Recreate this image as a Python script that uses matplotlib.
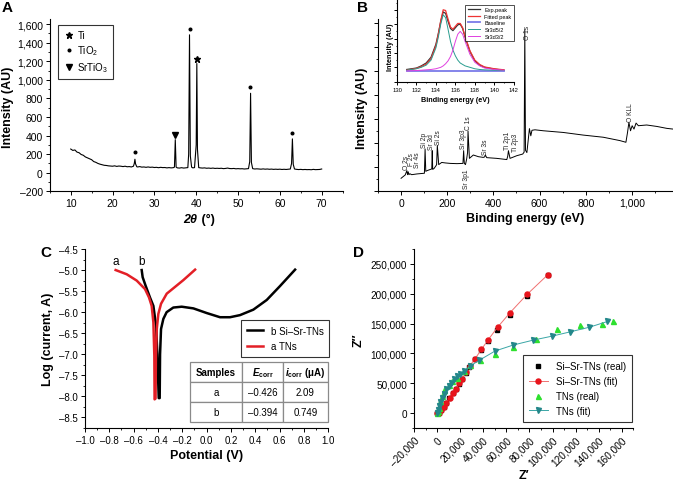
import matplotlib
matplotlib.use("Agg")
import matplotlib.pyplot as plt
from matplotlib.ticker import MultipleLocator, FuncFormatter, NullFormatter

# Global style
plt.rcParams.update({
    "font.family": ["Liberation Sans", "DejaVu Sans"],
    "font.size": 7,
    "axes.linewidth": 0.8,
    "xtick.direction": "out",
    "ytick.direction": "out",
    "xtick.major.size": 3,
    "ytick.major.size": 3,
    "xtick.minor.size": 1.6,
    "ytick.minor.size": 1.6,
    "xtick.major.width": 0.7,
    "ytick.major.width": 0.7,
    "xtick.minor.width": 0.6,
    "ytick.minor.width": 0.6,
    "xtick.major.pad": 2,
    "ytick.major.pad": 2,
    "mathtext.fontset": "custom",
    "mathtext.rm": "Liberation Sans",
    "mathtext.it": "Liberation Sans:italic",
    "mathtext.bf": "Liberation Sans:bold",
    "mathtext.bfit": "Liberation Sans:bold:italic",
    "mathtext.fallback": "stixsans",
})

# ---------------- Data ----------------
# A: XRD pattern
xrd_two_theta = [10.0, 10.5, 11.0, 11.5, 12.0, 12.5, 13.0, 13.5, 14.0, 14.5, 15.0, 15.5, 16.0, 16.5,
                 17.0, 17.5, 18.0, 18.5, 19.0, 19.5, 20.0, 20.5, 21.0, 21.5, 22.0, 22.5, 23.0, 23.5,
                 24.0, 24.5, 25.0, 25.2, 25.35, 25.5, 25.8, 26.0, 26.5, 27.0, 27.5, 28.0, 28.5, 29.0,
                 29.5, 30.0, 30.5, 31.0, 31.5, 32.0, 32.5, 33.0, 33.5, 34.0, 34.5, 34.8, 35.0, 35.2,
                 35.5, 36.0, 36.5, 37.0, 37.5, 38.0, 38.2, 38.4, 38.6, 38.9, 39.2, 39.6, 40.0, 40.15,
                 40.3, 40.6, 41.0, 41.5, 42.0, 42.5, 43.0, 43.5, 44.0, 44.5, 45.0, 45.5, 46.0, 46.5,
                 47.0, 47.5, 48.0, 48.5, 49.0, 49.5, 50.0, 50.5, 51.0, 51.5, 52.0, 52.5, 52.8, 53.0,
                 53.2, 53.5, 54.0, 54.5, 55.0, 55.5, 56.0, 56.5, 57.0, 57.5, 58.0, 58.5, 59.0, 59.5,
                 60.0, 60.5, 61.0, 61.5, 62.0, 62.5, 62.8, 63.0, 63.2, 63.5, 64.0, 64.5, 65.0, 65.5,
                 66.0, 66.5, 67.0, 67.5, 68.0, 68.5, 69.0, 69.5, 70.0]
xrd_intensity = [255, 240, 245, 222, 215, 196, 188, 170, 160, 150, 140, 120, 112, 100,
                 92, 86, 80, 78, 74, 72, 70, 74, 68, 72, 70, 66, 70, 64,
                 66, 62, 70, 100, 145, 95, 64, 62, 66, 60, 62, 58, 62, 58,
                 60, 56, 58, 54, 58, 55, 56, 52, 55, 52, 54, 60, 356, 60,
                 52, 50, 54, 50, 52, 55, 200, 1484, 180, 60, 52, 55, 300, 1175,
                 250, 55, 52, 50, 52, 48, 50, 47, 50, 46, 48, 46, 48, 44,
                 46, 50, 45, 44, 46, 42, 44, 42, 43, 40, 42, 44, 120, 855,
                 110, 44, 40, 42, 40, 38, 41, 38, 40, 37, 39, 36, 38, 36,
                 38, 35, 37, 35, 37, 40, 100, 364, 90, 40, 36, 34, 36, 33,
                 35, 33, 34, 32, 36, 33, 34, 35, 40]
ti_pos, ti_int = [40.15], [1228]
tio2_pos, tio2_int = [25.3, 38.4, 52.95, 62.9], [218, 1548, 918, 430]
srtio3_pos, srtio3_int = [34.95], [405]

# B: XPS survey
xps_energy = [0, 18, 25, 28, 31, 34, 38, 46, 68, 101, 104, 107, 113, 133, 135, 137, 143, 151, 154,
              157, 163, 176, 191, 213, 242, 268, 271, 274, 279, 284, 288, 290, 296, 313, 335, 356,
              362, 365, 371, 414, 458, 462, 465, 472, 501, 527, 533, 536, 539, 545, 556, 562, 567,
              580, 616, 702, 789, 876, 948, 974, 981, 987, 994, 1001, 1009, 1018, 1028, 1064, 1108,
              1151, 1178]
xps_intensity = [0.53, 0.67, 0.85, 0.68, 0.8, 0.68, 0.72, 0.68, 0.71, 0.74, 1.75, 0.82, 0.85, 0.92,
                 1.68, 0.9, 0.94, 1.05, 1.1, 1.9, 1.1, 1.19, 1.17, 1.15, 1.14, 1.15, 1.68, 1.15,
                 1.1, 1.33, 1.6, 2.5, 1.36, 1.5, 1.43, 1.4, 1.42, 1.5, 1.39, 1.36, 1.31, 1.45,
                 1.68, 1.36, 1.47, 1.54, 1.62, 6.72, 1.7, 1.6, 2.6, 2.3, 2.53, 2.55, 2.51, 2.44,
                 2.33, 2.24, 2.1, 2.03, 2.44, 2.86, 2.51, 2.72, 2.58, 2.83, 2.72, 2.75, 2.69, 2.61,
                 2.58]
peak_names = ["O 2s", "F 2s", "Sr 4s", "Si 2p", "Sr 3d", "Si 2s", "Sr 3p3", "C 1s", "Sr 3s",
              "Ti 2p1", "Ti 2p3", "O 1s", "O KLL"]
peak_label_x = [22, 46, 70, 102, 130, 160, 271, 292, 364, 462, 494, 549, 993]
peak_label_y = [0.9, 1.1, 1.0, 1.82, 1.75, 1.96, 1.78, 2.6, 1.56, 1.74, 1.66, 6.35, 2.93]
below_name, below_x, below_y = "Sr 3p1", 283, 0.95

# B inset: Sr 3d high-resolution
sr3d_energy = [131, 132, 132.5, 133, 133.5, 134, 134.25, 134.5, 134.75, 135, 135.25, 135.5, 135.75,
               136, 136.25, 136.5, 136.75, 137, 137.5, 138, 138.5, 139, 140, 141]
sr3d_exp = [0.17, 0.19, 0.22, 0.26, 0.34, 0.52, 0.67, 0.84, 0.97, 0.95, 0.84, 0.74, 0.71,
            0.75, 0.79, 0.80, 0.74, 0.62, 0.42, 0.29, 0.23, 0.20, 0.175, 0.16]
sr3d_fit = [0.16, 0.185, 0.21, 0.245, 0.32, 0.50, 0.66, 0.85, 1.0, 0.99, 0.87, 0.76, 0.73,
            0.77, 0.81, 0.81, 0.75, 0.63, 0.43, 0.30, 0.24, 0.205, 0.18, 0.165]
sr3d_base = [0.15] * len(sr3d_energy)
sr3d52 = [0.16, 0.18, 0.20, 0.23, 0.30, 0.47, 0.62, 0.80, 0.93, 0.89, 0.73, 0.56, 0.44,
          0.36, 0.30, 0.26, 0.24, 0.22, 0.20, 0.18, 0.17, 0.165, 0.16, 0.155]
sr3d32 = [0.15, 0.155, 0.16, 0.165, 0.17, 0.18, 0.19, 0.20, 0.22, 0.25, 0.29, 0.35, 0.44,
          0.56, 0.66, 0.70, 0.66, 0.56, 0.38, 0.27, 0.22, 0.19, 0.17, 0.16]

# C: polarization curves
tns_potential = [-0.748, -0.657, -0.575, -0.507, -0.474, -0.452, -0.438, -0.43, -0.428,
                 -0.42, -0.417, -0.41, -0.397, -0.375, -0.328, -0.26, -0.192, -0.095]
tns_logi = [-5.0, -5.10, -5.25, -5.45, -5.65, -5.85, -6.24, -7.04, -8.07,
            -8.05, -7.04, -6.4, -6.04, -5.8, -5.56, -5.40, -5.24, -4.99]
sisr_potential = [-0.534, -0.526, -0.502, -0.466, -0.438, -0.416, -0.405, -0.394, -0.386,
                  -0.383, -0.375, -0.356, -0.329, -0.274, -0.205, -0.109, 0.0, 0.11, 0.192,
                  0.274, 0.384, 0.494, 0.603, 0.727]
sisr_logi = [-5.0, -5.17, -5.37, -5.65, -5.85, -6.32, -7.0, -8.04, -8.04,
             -7.0, -6.4, -6.16, -6.0, -5.89, -5.87, -5.91, -6.02, -6.12, -6.12,
             -6.07, -5.94, -5.71, -5.38, -4.99]
table_samples = ["a", "b"]
table_ecorr = [-0.426, -0.394]
table_icorr = ["2.09", "0.749"]

# D: Nyquist plots
sisr_real_x = [0, 1300, 3300, 5600, 7900, 10700, 13600, 16400, 19300, 21800, 24700, 28000,
               32700, 38200, 44200, 51700, 63000, 77600, 96000]
sisr_real_y = [0, 500, 4600, 10200, 16800, 25000, 33400, 40000, 48600, 56500, 67200, 77600,
               90000, 105000, 121500, 140000, 165100, 195800, 231000]
sisr_fit_x = [0, 1400, 3400, 5700, 8000, 10800, 13700, 16600, 19400, 22000, 24900, 28100,
              32900, 38400, 44400, 52600, 63300, 78000, 96000]
sisr_fit_y = [0, 700, 5000, 10700, 17400, 25800, 34100, 40800, 49700, 57600, 68600, 78700,
              91000, 106600, 123300, 144300, 168500, 199000, 232000]
tns_real_x = [0, 700, 1400, 2800, 4300, 6300, 10000, 12900, 17200, 22900, 28600, 37000,
              50200, 65900, 86000, 103700, 123900, 142800, 152000]
tns_real_y = [0, 4000, 9000, 20100, 28500, 38500, 46400, 53600, 59200, 70300, 79800, 89500,
              99400, 111100, 125000, 141700, 148400, 149600, 155100]
tns_fit_x = [0, 600, 1400, 2800, 4300, 6000, 8000, 10000, 12000, 14500, 17200, 19800, 22900,
             28600, 36700, 50200, 65900, 83100, 99500, 115500, 131900, 147600]
tns_fit_y = [0, 5500, 11700, 19000, 25800, 32500, 39700, 45500, 50900, 56500, 61900, 66000,
             70300, 78700, 88700, 104000, 114000, 122200, 128900, 136200, 143900, 153500]

# ---------------- Layout helpers ----------------
W, H = 673, 481
fig = plt.figure(figsize=(W / 100, H / 100), dpi=100)


def box(l, t, r, b):
    return [l / W, 1 - b / H, (r - l) / W, (b - t) / H]


def ftext(px, py, s, **kw):
    fig.text(px / W, 1 - py / H, s, ha="center", va="center", **kw)


def dash_fmt(fmt):
    def f(v, p):
        if abs(v) < 1e-9:
            v = 0
        return fmt.format(v).replace("-", "\u2013")
    return FuncFormatter(f)


def clean(ax):
    ax.spines["top"].set_visible(False)
    ax.spines["right"].set_visible(False)


LBL = dict(fontsize=9, fontweight="bold")

# ---------------- Panel A ----------------
axA = fig.add_axes(box(49.8, 20.4, 342.6, 192.3))
clean(axA)
axA.plot(xrd_two_theta, xrd_intensity, color="black", lw=0.8)
axA.plot(ti_pos, ti_int, ls="none", marker="*", ms=5, color="black", label="Ti")
axA.plot(tio2_pos, tio2_int, ls="none", marker="o", ms=1.9, color="black", label="TiO$_2$")
axA.plot(srtio3_pos, srtio3_int, ls="none", marker="v", ms=5, color="black", label="SrTiO$_3$")
axA.set_xlim(5, 75)
axA.set_ylim(-200, 1650)
axA.xaxis.set_major_locator(MultipleLocator(10))
axA.xaxis.set_minor_locator(MultipleLocator(5))
axA.yaxis.set_major_locator(MultipleLocator(200))
axA.yaxis.set_minor_locator(MultipleLocator(100))
axA.yaxis.set_major_formatter(dash_fmt("{:,.0f}"))
axA.tick_params(labelsize=7.5)
axA.legend(loc="upper left", bbox_to_anchor=(0.028, 0.967), borderaxespad=0, fontsize=7,
           frameon=True, fancybox=False, edgecolor="black", handletextpad=0.3,
           labelspacing=0.35, borderpad=0.5, handlelength=1.2, numpoints=1)
axA.get_legend().get_frame().set_linewidth(0.8)
ftext(7, 8, "A", fontsize=11, fontweight="bold")
ftext(8, 107, "Intensity (AU)", rotation=90, **LBL)
fig.text(197 / W, 1 - 220 / H, "2θ", ha="right", va="center", fontsize=9,
         fontweight="bold", fontstyle="italic")
fig.text(198 / W, 1 - 220 / H, " (°)", ha="left", va="center", **LBL)

# ---------------- Panel B ----------------
axB = fig.add_axes(box(378, 20.4, 673, 192))
clean(axB)
axB.plot(xps_energy, xps_intensity, color="black", lw=0.7)
axB.set_xlim(-100, 1178)
axB.set_ylim(0, 7.15)
axB.xaxis.set_major_locator(MultipleLocator(200))
axB.xaxis.set_minor_locator(MultipleLocator(100))
axB.xaxis.set_major_formatter(dash_fmt("{:,.0f}"))
axB.yaxis.set_major_locator(MultipleLocator(1))
axB.yaxis.set_minor_locator(MultipleLocator(0.5))
axB.yaxis.set_major_formatter(NullFormatter())
axB.tick_params(labelsize=7.5)
for name, x, y in zip(peak_names, peak_label_x, peak_label_y):
    axB.text(x, y, name, rotation=90, ha="center", va="bottom", fontsize=4.8,
             color="#222222")
axB.text(below_x, below_y, below_name, rotation=90, ha="center", va="top", fontsize=4.8,
         color="#222222")
ftext(362, 8, "B", fontsize=11, fontweight="bold")
ftext(362, 108, "Intensity (AU)", rotation=90, **LBL)
ftext(525, 219, "Binding energy (eV)", **LBL)

# inset
axI = fig.add_axes(box(397, 0, 513.7, 82.7))
clean(axI)
axI.plot(sr3d_energy, sr3d_exp, color="#333333", lw=0.9, label="Exp.peak")
axI.plot(sr3d_energy, sr3d_fit, color="#ee3333", lw=0.9, label="Fitted peak")
axI.plot(sr3d_energy, sr3d_base, color="#7b7be8", lw=1.3, label="Baseline")
axI.plot(sr3d_energy, sr3d52, color="#2a9d8f", lw=0.7, label="Sr3d5/2")
axI.plot(sr3d_energy, sr3d32, color="#e040e0", lw=0.7, label="Sr3d3/2")
axI.set_xlim(130, 142)
axI.set_ylim(0, 1.15)
axI.xaxis.set_major_locator(MultipleLocator(2))
axI.xaxis.set_minor_locator(MultipleLocator(1))
axI.yaxis.set_major_locator(MultipleLocator(0.2))
axI.yaxis.set_minor_locator(MultipleLocator(0.1))
axI.yaxis.set_major_formatter(NullFormatter())
axI.tick_params(labelsize=4.2, length=2, pad=1.5)
axI.tick_params(which="minor", length=1)
axI.legend(loc="upper right", bbox_to_anchor=(1.0, 0.93), borderaxespad=0, fontsize=4,
           frameon=True, fancybox=False, edgecolor="black", handlelength=2.2,
           labelspacing=0.3, borderpad=0.4, handletextpad=0.8)
axI.get_legend().get_frame().set_linewidth(0.6)
ftext(455, 100, "Binding energy (eV)", fontsize=5.2, fontweight="bold")
ftext(390, 47, "Intensity (AU)", rotation=90, fontsize=5.2, fontweight="bold")

# ---------------- Panel C ----------------
axC = fig.add_axes(box(85, 250, 328.3, 429))
clean(axC)
axC.plot(sisr_potential, sisr_logi, color="black", lw=1.8, label="b Si\u2013Sr-TNs")
axC.plot(tns_potential, tns_logi, color="#e31f26", lw=1.8, label="a TNs")
axC.set_xlim(-1, 1)
axC.set_ylim(-8.75, -4.5)
axC.xaxis.set_major_locator(MultipleLocator(0.2))
axC.xaxis.set_minor_locator(MultipleLocator(0.1))
axC.yaxis.set_major_locator(MultipleLocator(0.5))
axC.yaxis.set_minor_locator(MultipleLocator(0.25))
axC.xaxis.set_major_formatter(dash_fmt("{:.1f}"))
axC.yaxis.set_major_formatter(dash_fmt("{:.1f}"))
axC.tick_params(labelsize=7)
axC.text(tns_potential[0], -4.78, "a", ha="center", va="center", fontsize=8.5)
axC.text(sisr_potential[0], -4.78, "b", ha="center", va="center", fontsize=8.5)
legC = axC.legend(loc="upper right", bbox_to_anchor=(1.004, 0.603), borderaxespad=0,
                  fontsize=7, frameon=True, fancybox=False, edgecolor="black",
                  handlelength=1.6, labelspacing=0.55, borderpad=0.6)
legC.get_frame().set_linewidth(0.8)

cell_text = [[s, f"{e:.3f}".replace("-", "\u2013"), i]
             for s, e, i in zip(table_samples, table_ecorr, table_icorr)]
col_labels = ["Samples", r"$\mathbfit{E}_{\mathregular{corr}}$",
              r"$\mathbfit{i}_{\mathregular{corr}}$ (μA)"]
tab = axC.table(cellText=cell_text, colLabels=col_labels, colWidths=[52.3, 40.3, 45.7],
                cellLoc="center", bbox=[0.4316, 0.0352, 0.5684, 0.332])
tab.auto_set_font_size(False)
tab.set_fontsize(7)
for (r, c), cell in tab.get_celld().items():
    cell.set_edgecolor("#8a8a8a")
    cell.set_linewidth(0.9)
    cell.set_facecolor("white")
    if r == 0:
        cell.get_text().set_fontweight("bold")
ftext(46, 253, "C", fontsize=11, fontweight="bold")
ftext(47.5, 339, "Log (current, A)", rotation=90, **LBL)
ftext(206.7, 456, "Potential (V)", **LBL)

# ---------------- Panel D ----------------
axD = fig.add_axes(box(414, 250, 633.3, 429))
clean(axD)
axD.plot(sisr_real_x, sisr_real_y, ls="none", marker="s", ms=3.3, color="black",
         label="Si\u2013Sr-TNs (real)")
axD.plot(sisr_fit_x, sisr_fit_y, color="#f07070", lw=0.7, marker="o", ms=3.6,
         mfc="#e8141c", mec="#e8141c", label="Si\u2013Sr-TNs (fit)")
axD.plot(tns_real_x, tns_real_y, ls="none", marker="^", ms=3.6, color="#2ee02e",
         label="TNs (real)")
axD.plot(tns_fit_x, tns_fit_y, color="#3aa6a6", lw=0.7, marker="v", ms=3.6,
         mfc="#23878a", mec="#23878a", label="TNs (fit)")
axD.set_xlim(-20000, 170000)
axD.set_ylim(-25000, 275000)
axD.xaxis.set_major_locator(MultipleLocator(20000))
axD.xaxis.set_minor_locator(MultipleLocator(10000))
axD.yaxis.set_major_locator(MultipleLocator(50000))
axD.yaxis.set_minor_locator(MultipleLocator(25000))
axD.xaxis.set_major_formatter(dash_fmt("{:,.0f}"))
axD.yaxis.set_major_formatter(dash_fmt("{:,.0f}"))
axD.tick_params(labelsize=7.2)
for lab in axD.get_xticklabels():
    lab.set_rotation(45)
    lab.set_ha("right")
    lab.set_va("top")
    lab.set_rotation_mode("anchor")
legD = axD.legend(loc="lower right", bbox_to_anchor=(0.993, 0.035), borderaxespad=0,
                  fontsize=7, frameon=True, fancybox=False, edgecolor="black",
                  handlelength=2.0, labelspacing=0.5, borderpad=0.6, numpoints=1)
legD.get_frame().set_linewidth(0.8)
ftext(358, 253, "D", fontsize=11, fontweight="bold")
ftext(359, 340, "Z\u2033", rotation=90, **LBL)
ftext(524, 476, "Z\u2032", **LBL)

fig.savefig("out.png", dpi=100)
